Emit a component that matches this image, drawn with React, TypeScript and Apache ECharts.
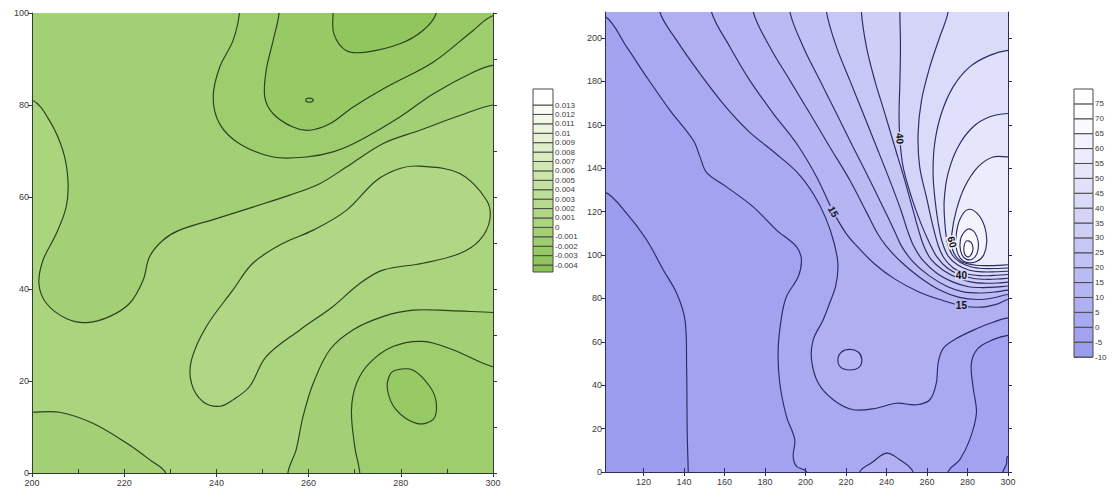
import React, { useEffect, useRef } from "react";
import * as echarts from "echarts";

// ================= LEFT CHART (green) =================
const leftXRange = [200, 300];
const leftYRange = [0, 100];
const leftColorLevels = [-0.004, -0.003, -0.002, -0.001, 0, 0.001, 0.002, 0.003, 0.004, 0.005, 0.006, 0.007, 0.008, 0.009, 0.01, 0.011, 0.012, 0.013];
const leftColorRange = [-0.00474, 0.0147];

const leftLineA = [[200, 13.2], [206, 13.2], [213.2, 10.8], [220.5, 6.5], [225.5, 2.9], [229, 0]];
const leftLineB = [[200, 81.1], [203.8, 76.6], [206.7, 70.1], [207.8, 63.6], [207.4, 57.8], [205.3, 52.1], [202.4, 46.3], [201.5, 41.2], [203.1, 36.9], [207.4, 33.6], [211.8, 32.7], [216.8, 34], [221.2, 36.9], [224.1, 41.9], [225.5, 47], [228.4, 50.6], [232, 52.8], [240, 55.3], [247.9, 57.8], [255.9, 60.4], [262.4, 62.9], [268.2, 66.5], [276.1, 71.6], [284.1, 74.5], [292.8, 77.7], [300, 80]];
const leftLineC = [[284.1, 66.7], [292.8, 65.1], [298.6, 59.3], [299.3, 55], [297.1, 50.6], [292.8, 47.7], [284.8, 45.6], [276.1, 44.1], [271.1, 41.2], [265.3, 36.2], [258.1, 31.1], [250.8, 25.3], [247.2, 18.8], [243.6, 15.9], [240.7, 14.5], [237.1, 15.5], [234.6, 19.5], [234.6, 24.6], [237.8, 31.8], [243.6, 39.8], [247.9, 45.6], [254.4, 49.9], [261, 52.8], [268.2, 57.1], [274.7, 63.6], [279.8, 66.2]];
const leftLineD = [[255.5, 0], [257.3, 5.1], [258.8, 12.3], [261, 19.5], [264.6, 26.8], [269.6, 31.1], [276.1, 34], [282.6, 35.4], [290.6, 35.3], [300, 34.9]];
const leftLineE = [[271.1, 0], [270, 5.8], [269.3, 13.7], [270.4, 19.5], [273.2, 23.9], [278.3, 27.5], [284.8, 28.6], [291.3, 26.8], [300, 23.1]];
const leftLineF = [[279, 22.4], [282.6, 22.4], [286.3, 18.8], [287.7, 15.2], [287, 11.6], [283.4, 10.8], [279, 13.7], [277.1, 18.1], [277.6, 21.3]];
const leftLineG = [[245, 100], [243.6, 94], [240.7, 88.2], [239.3, 81.7], [240.7, 75.9], [245, 71.6], [252.3, 68.7], [259.5, 68.7], [265.3, 69.8], [271.1, 72.3], [279.8, 77.4], [287, 82.4], [295.7, 87.1], [300, 88.6]];
const leftLineH = [[253.6, 100], [252.3, 94], [250.8, 87.5], [250.5, 81.7], [252.3, 78.1], [256.6, 75.2], [260.2, 74.5], [264.6, 75.9], [269.6, 79.5], [276.9, 83.9], [287, 89.3], [295.7, 96.2], [300, 99.4]];
const leftLineI = [[265.3, 100], [265.5, 95.4], [268.2, 91.8], [272.5, 91.5], [279.8, 93.3], [284.8, 96.2], [287.7, 100]];
const leftDot = [[259.6, 81.4], [260.7, 81.4], [261, 80.9], [260.1, 80.6], [259.4, 80.9]];

// level of each contour, the side its filled region lies on, and how it closes
const leftContours = [
  { pts: leftLineB, level: 0, above: false, closed: false, corners: ["tr", "tl"] },
  { pts: leftLineG, level: -0.001, above: false, closed: false, corners: ["tr"] },
  { pts: leftLineH, level: -0.002, above: false, closed: false, corners: ["tr"] },
  { pts: leftLineI, level: -0.003, above: false, closed: false, corners: [] },
  { pts: leftDot, level: -0.003, above: false, closed: true, corners: [] },
  { pts: leftLineC, level: 0.001, above: true, closed: true, corners: [] },
  { pts: leftLineA, level: 0, above: false, closed: false, corners: ["bl"] },
  { pts: leftLineD, level: 0, above: false, closed: false, corners: ["br"] },
  { pts: leftLineE, level: -0.001, above: false, closed: false, corners: ["br"] },
  { pts: leftLineF, level: -0.002, above: false, closed: true, corners: [] },
];
const leftBackgroundLevel = 0; // region between 0 and 0.001

// ================= RIGHT CHART (blue) =================
const rightXRange = [101, 300];
const rightYRange = [0, 212];
const rightXTicks = [120, 140, 160, 180, 200, 220, 240, 260, 280, 300];
const rightYTicks = [0, 20, 40, 60, 80, 100, 120, 140, 160, 180, 200];
const rightColorLevels = [-10, -5, 0, 5, 10, 15, 20, 25, 30, 35, 40, 45, 50, 55, 60, 65, 70, 75];
const rightColorRange = [-10, 80];

const rightLine0 = [[101, 129], [111.7, 119.2], [121.6, 106.9], [129.8, 93.1], [136.4, 82.4], [140.5, 70.1], [141.3, 48.6], [141.6, 17.9], [142.1, 0]];
const rightLine5 = [[101, 210], [111.7, 195.9], [121.6, 182], [133.1, 166.7], [144.6, 152.9], [148, 145], [151.2, 138], [161, 131.4], [174.2, 122.2], [185.7, 111.5], [195.6, 103.8], [198, 97.7], [196.4, 90], [190.6, 80.8], [188.2, 71.6], [186.5, 56.3], [187.3, 41], [190.6, 25.6], [194.7, 14.9], [193.9, 7.2], [195.6, 2.6], [200.5, 0]];
const rightLine5b = [[270.4, 0], [276.2, 5.7], [281.1, 14.9], [284.4, 27.1], [282.7, 39.4], [281.9, 50.2], [285.2, 57], [292.6, 61], [300, 63]];
const rightLine0b = [[297.5, 0], [299.2, 3.5], [300, 7.2]];
const rightLine10bump = [[226.8, 0], [233, 4.5], [240, 8.7], [246, 6], [253.1, 0]];
const rightLine10 = [[128.1, 212], [136.4, 198.9], [147.9, 183.6], [160, 169], [172, 157], [185, 147], [196, 138], [204, 128], [210, 117], [214, 106], [216, 96], [215, 86], [212, 78], [208.7, 70.1], [203.8, 60.9], [203, 51.7], [206.3, 41], [213.7, 33.3], [223.5, 28.7], [235, 29.4], [244.9, 31.7], [254.8, 31], [261.4, 33.3], [264.6, 41], [265.5, 50.2], [268, 57], [274.5, 61.5], [284.4, 66], [292.6, 69], [300, 71]];
const rightLoop15 = [[221.9, 56.5], [226, 55.3], [227.8, 52], [226.5, 48.3], [222, 47], [217.5, 48.2], [216, 51.8], [217.8, 55.3]];
const rightLine15 = [[153.6, 212], [162.7, 195.9], [172.5, 180.5], [184.1, 165.2], [195.6, 151.4], [205.5, 136], [213.7, 120], [220, 110], [226, 103.5], [234, 96], [244, 89], [256, 83], [268, 79], [278, 76.5], [287, 76], [295, 77.5], [300, 79.5]];
const rightLine20 = [[174.2, 212], [182.4, 195.9], [192.3, 180.5], [202.2, 165.2], [212, 149.8], [221.9, 134.5], [230, 120], [235.5, 110], [240, 104], [247, 97], [256, 90], [266, 84], [276, 80.5], [285, 79.5], [293, 80.3], [300, 81.8]];
const rightLine25 = [[192.3, 212], [198.9, 195.9], [207.1, 180.5], [215.3, 165.2], [223.5, 149.8], [231.8, 134.5], [239, 120.7], [244, 111], [247.5, 104], [253, 97], [261, 90.5], [270, 85.5], [278, 83], [286, 82.5], [294, 83], [300, 83.8]];
const rightLine30 = [[210.4, 212], [215.3, 195.9], [221.9, 180.5], [228.5, 165.2], [235.1, 149.8], [241.6, 134.5], [247, 121], [250.5, 111], [253.5, 104], [258, 97.5], [265, 91.5], [273, 87.5], [280, 85.5], [287, 85], [294, 85.2], [300, 85.7]];
const rightLine35 = [[227.6, 212], [230.1, 195.9], [234.2, 180.5], [239.2, 165.2], [244.1, 149.8], [249, 134.5], [253, 121], [256, 111], [258.5, 104], [262, 98], [268, 93], [275, 89.5], [282, 87.5], [289, 87], [295, 87.1], [300, 87.5]];
const rightLine40 = [[246.6, 212], [246.9, 195.9], [246.6, 179], [246.2, 165.2], [246.6, 153.7], [248.2, 140.6], [252.3, 126.8], [257, 114.6], [261.5, 105], [265, 99], [270, 94], [276, 91], [283, 89.2], [290, 88.8], [296, 89], [300, 89.3]];
const rightLine45 = [[270.4, 212], [266.3, 200.5], [261.4, 186.7], [257.3, 171.3], [255.6, 156], [256.4, 140.6], [259.7, 126.8], [262.5, 115], [265.5, 104.5], [268.5, 98.5], [273, 94], [279, 91.5], [286, 90.5], [293, 90.6], [300, 91]];
const rightLine50 = [[300, 194.3], [291, 192], [281.1, 186.7], [272.9, 177.5], [267.1, 165.2], [263.8, 151.4], [263, 137.6], [264, 125.3], [265.5, 115], [267.5, 106], [270.5, 99.5], [275, 95.5], [281, 93], [288, 92.2], [294, 92.3], [300, 92.5]];
const rightLine55 = [[300, 165.2], [291, 163.7], [282.7, 159], [275.3, 149.8], [270.4, 137.6], [268.5, 125.3], [268.8, 115], [270, 106], [272.5, 100], [276.5, 96.5], [282, 94.5], [288, 93.8], [294, 93.8], [300, 94]];
const rightLine60 = [[300, 145.2], [292.6, 145.2], [285.2, 140.6], [278.6, 131.4], [274.5, 120.7], [272.3, 110], [272.5, 103], [275, 98.5], [279, 96.2], [284, 95.3], [290, 95.1], [295, 95.2], [300, 95.5]];
const rightLoop65 = [[280.3, 121], [285, 119], [288.5, 113], [289.5, 106], [288, 100], [284.5, 97], [280, 96.5], [276.5, 98.5], [274.5, 103], [274.5, 110], [276.5, 117]];
const rightLoop70 = [[280.3, 112], [283.5, 110.5], [285.3, 106], [284.8, 101], [282.5, 98.2], [279.5, 98], [277.3, 100], [276.3, 104], [277, 108.5]];
const rightLoop75 = [[280.5, 106.5], [282.3, 105], [282.6, 102], [281.2, 99.5], [279.6, 99.3], [278.4, 101], [278.3, 104], [279, 106]];

const rightContours = [
  { pts: rightLine0, level: 0, above: true, closed: false, corners: ["br", "tr", "tl"] },
  { pts: rightLine5, level: 5, above: true, closed: false, corners: ["br", "tr", "tl"] },
  { pts: rightLine5b, level: 5, above: false, closed: false, corners: ["br"] },
  { pts: rightLine0b, level: 0, above: false, closed: false, corners: ["br"] },
  { pts: rightLine10bump, level: 10, above: true, closed: false, corners: [] },
  { pts: rightLine10, level: 10, above: true, closed: false, corners: ["tr"] },
  { pts: rightLoop15, level: 15, above: true, closed: true, corners: [] },
  { pts: rightLine15, level: 15, above: true, closed: false, corners: ["tr"] },
  { pts: rightLine20, level: 20, above: true, closed: false, corners: ["tr"] },
  { pts: rightLine25, level: 25, above: true, closed: false, corners: ["tr"] },
  { pts: rightLine30, level: 30, above: true, closed: false, corners: ["tr"] },
  { pts: rightLine35, level: 35, above: true, closed: false, corners: ["tr"] },
  { pts: rightLine40, level: 40, above: true, closed: false, corners: ["tr"] },
  { pts: rightLine45, level: 45, above: true, closed: false, corners: ["tr"] },
  { pts: rightLine50, level: 50, above: true, closed: false, corners: [] },
  { pts: rightLine55, level: 55, above: true, closed: false, corners: [] },
  { pts: rightLine60, level: 60, above: true, closed: false, corners: [] },
  { pts: rightLoop65, level: 65, above: true, closed: true, corners: [] },
  { pts: rightLoop70, level: 70, above: true, closed: true, corners: [] },
  { pts: rightLoop75, level: 75, above: true, closed: true, corners: [] },
];
const rightBackgroundLevel = -5; // region between -5 and 0

const rightLabelX = [213.7, 246.6, 272.4, 277, 277];
const rightLabelY = [120, 153.7, 106, 90.6, 76.8];
const rightLabelText = ["15", "40", "60", "40", "15"];
const rightLabelLevel = [15, 40, 60, 40, 15];

// ================= helpers =================
const lerp = (a: number[], b: number[], t: number) => a.map((v, k) => v + (b[k] - v) * t);
const rgb = (c: number[]) => "rgb(" + c.map((v) => Math.round(v)).join(",") + ")";
const greenBand = (j: number) => {
  const t = Math.max(0, Math.min(18, j));
  const dark = [138, 194, 84];
  const mid = [196, 226, 158];
  const white = [255, 255, 255];
  return rgb(t <= 9 ? lerp(dark, mid, t / 9) : lerp(mid, white, (t - 9) / 9));
};
const blueBand = (i: number) => rgb(lerp([150, 150, 238], [255, 255, 255], Math.max(0, Math.min(17, i)) / 17));
// index of the band whose upper bound equals the level
const greenIndex = (level: number) => Math.round(level * 1000) + 4;
const blueIndex = (level: number) => Math.round((level + 5) / 5);

function buildPolygon(c: any, xr: number[], yr: number[], m: number) {
  if (c.closed) return c.pts;
  const tol = 0.8;
  const out = (p: number[]) => {
    const [x, y] = p;
    if (Math.abs(x - xr[0]) < tol) return [x - m, y];
    if (Math.abs(x - xr[1]) < tol) return [x + m, y];
    if (Math.abs(y - yr[0]) < tol) return [x, y - m];
    return [x, y + m];
  };
  const cp: any = {
    tl: [xr[0] - m, yr[1] + m],
    tr: [xr[1] + m, yr[1] + m],
    br: [xr[1] + m, yr[0] - m],
    bl: [xr[0] - m, yr[0] - m],
  };
  const S = c.pts[0];
  const E = c.pts[c.pts.length - 1];
  return [...c.pts, out(E), ...c.corners.map((k: string) => cp[k]), out(S)];
}

function contourSeries(
  contours: any[],
  xr: number[],
  yr: number[],
  m: number,
  bandColor: (i: number) => string,
  bandIndex: (l: number) => number,
  bgLevel: number,
  lineColor: string,
  xAxisIndex: number,
  yAxisIndex: number
) {
  const data = [[xr[0], yr[0]], ...contours.map((c) => c.pts[0])];
  return {
    type: "custom",
    xAxisIndex,
    yAxisIndex,
    clip: true,
    silent: true,
    z: 2,
    data,
    renderItem: (params: any, api: any) => {
      const k = params.dataIndex;
      if (k === 0) {
        const a = api.coord([xr[0], yr[1]]);
        const b = api.coord([xr[1], yr[0]]);
        return {
          type: "rect",
          shape: { x: a[0], y: a[1], width: b[0] - a[0], height: b[1] - a[1] },
          style: { fill: bandColor(bandIndex(bgLevel) + 1) },
        };
      }
      const c = contours[k - 1];
      const poly = buildPolygon(c, xr, yr, m).map((p: number[]) => api.coord(p));
      const band = bandIndex(c.level) + (c.above ? 1 : 0);
      return {
        type: "polygon",
        shape: { points: poly, smooth: 0.35 },
        style: { fill: bandColor(band), stroke: lineColor, lineWidth: 1.15 },
      };
    },
  };
}

function colorbarSeries(levels: number[], range: number[], bandColor: (i: number) => string, xAxisIndex: number, yAxisIndex: number) {
  const bounds = [range[0], ...levels, range[1]];
  const items: number[][] = [];
  for (let i = 0; i < bounds.length - 1; i++) items.push([0, bounds[i], bounds[i + 1]]);
  return {
    type: "custom",
    xAxisIndex,
    yAxisIndex,
    silent: true,
    data: items,
    encode: { x: 0, y: [1, 2] },
    renderItem: (params: any, api: any) => {
      const lo = api.value(1);
      const hi = api.value(2);
      const a = api.coord([0, hi]);
      const b = api.coord([1, lo]);
      return {
        type: "rect",
        shape: { x: a[0], y: a[1], width: b[0] - a[0], height: b[1] - a[1] },
        style: { fill: bandColor(params.dataIndex), stroke: "#4a4a4a", lineWidth: 1 },
      };
    },
  };
}

const FONT = "Liberation Sans";
const labelStyle = { fontSize: 9, color: "#3a3a3a", fontFamily: FONT };

function plotAxes(color: string) {
  return {
    axisLine: { show: true, lineStyle: { color, width: 1 } },
    axisTick: { show: true, length: 4, lineStyle: { color } },
    splitLine: { show: false },
    z: 10,
  };
}

function buildOption() {
  const lc = "#333a2e";
  const rc = "#2e2e5e";
  return {
    animation: false,
    backgroundColor: "#ffffff",
    grid: [
      { left: 32, top: 13, width: 461, height: 460 },
      { left: 533, top: 89, width: 20, height: 183 },
      { left: 605, top: 12, width: 403, height: 460 },
      { left: 1074, top: 89, width: 19, height: 268 },
    ],
    xAxis: [
      { gridIndex: 0, type: "value", min: leftXRange[0], max: leftXRange[1], interval: 20, position: "bottom", ...plotAxes(lc), axisLabel: { ...labelStyle, margin: 5 } },
      { gridIndex: 0, type: "value", min: leftXRange[0], max: leftXRange[1], interval: 10, position: "top", ...plotAxes(lc), axisLabel: { show: false } },
      { gridIndex: 1, type: "value", min: 0, max: 1, show: false },
      {
        gridIndex: 2, type: "value", min: rightXRange[0], max: rightXRange[1], position: "bottom", ...plotAxes(rc),
        axisTick: { show: true, length: 4, lineStyle: { color: rc }, customValues: rightXTicks },
        axisLabel: { ...labelStyle, margin: 5, customValues: rightXTicks },
      },
      {
        gridIndex: 2, type: "value", min: rightXRange[0], max: rightXRange[1], position: "top", ...plotAxes(rc),
        axisTick: { show: true, length: 4, lineStyle: { color: rc }, customValues: rightXTicks },
        axisLabel: { show: false },
      },
      { gridIndex: 3, type: "value", min: 0, max: 1, show: false },
    ],
    yAxis: [
      { gridIndex: 0, type: "value", min: leftYRange[0], max: leftYRange[1], interval: 20, position: "left", ...plotAxes(lc), axisLabel: { ...labelStyle, margin: 3 } },
      { gridIndex: 0, type: "value", min: leftYRange[0], max: leftYRange[1], interval: 10, position: "right", ...plotAxes(lc), axisLabel: { show: false } },
      {
        gridIndex: 1, type: "value", min: leftColorRange[0], max: leftColorRange[1], position: "right",
        axisLine: { show: false }, splitLine: { show: false },
        axisTick: { show: true, length: 3, lineStyle: { color: "#4a4a4a" }, customValues: leftColorLevels },
        axisLabel: { ...labelStyle, fontSize: 8, margin: 2, customValues: leftColorLevels, formatter: (v: number) => String(Math.round(v * 1000) / 1000) },
      },
      {
        gridIndex: 2, type: "value", min: rightYRange[0], max: rightYRange[1], position: "left", ...plotAxes(rc),
        axisTick: { show: true, length: 4, lineStyle: { color: rc }, customValues: rightYTicks },
        axisLabel: { ...labelStyle, margin: 3, customValues: rightYTicks },
      },
      {
        gridIndex: 2, type: "value", min: rightYRange[0], max: rightYRange[1], position: "right", ...plotAxes(rc),
        axisTick: { show: true, length: 4, lineStyle: { color: rc }, customValues: rightYTicks },
        axisLabel: { show: false },
      },
      {
        gridIndex: 3, type: "value", min: rightColorRange[0], max: rightColorRange[1], position: "right",
        axisLine: { show: false }, splitLine: { show: false },
        axisTick: { show: true, length: 3, lineStyle: { color: "#4a4a4a" }, customValues: rightColorLevels },
        axisLabel: { ...labelStyle, fontSize: 8, margin: 2, customValues: rightColorLevels },
      },
    ],
    series: [
      contourSeries(leftContours, leftXRange, leftYRange, 6, greenBand, greenIndex, leftBackgroundLevel, "#2a4020", 0, 0),
      contourSeries(rightContours, rightXRange, rightYRange, 12, blueBand, blueIndex, rightBackgroundLevel, "#2a2a66", 3, 3),
      {
        type: "custom",
        xAxisIndex: 3,
        yAxisIndex: 3,
        silent: true,
        z: 5,
        data: rightLabelX.map((x, k) => [x, rightLabelY[k]]),
        renderItem: (params: any, api: any) => {
          const k = params.dataIndex;
          const p = api.coord([api.value(0), api.value(1)]);
          const rot = [-1.08, -1.5, -1.3, 0, 0][k];
          return {
            type: "text",
            x: p[0],
            y: p[1],
            rotation: rot,
            style: {
              text: rightLabelText[k],
              fill: "#111",
              fontSize: 10,
              fontWeight: "bold",
              fontFamily: FONT,
              align: "center",
              verticalAlign: "middle",
              backgroundColor: blueBand(blueIndex(rightLabelLevel[k]) + 1),
              padding: [0, 1],
            },
          };
        },
      },
      colorbarSeries(leftColorLevels, leftColorRange, greenBand, 2, 2),
      colorbarSeries(rightColorLevels, rightColorRange, blueBand, 5, 5),
    ],
  };
}

export default function App() {
  const ref = useRef<HTMLDivElement>(null);
  useEffect(() => {
    if (!ref.current) return;
    const chart = echarts.init(ref.current, undefined, { renderer: "svg" });
    chart.setOption(buildOption() as any);
    return () => chart.dispose();
  }, []);
  return (
    <div
      ref={ref}
      style={{ position: "absolute", left: 0, top: 0, width: 1115, height: 493, background: "#fff" }}
    />
  );
}
